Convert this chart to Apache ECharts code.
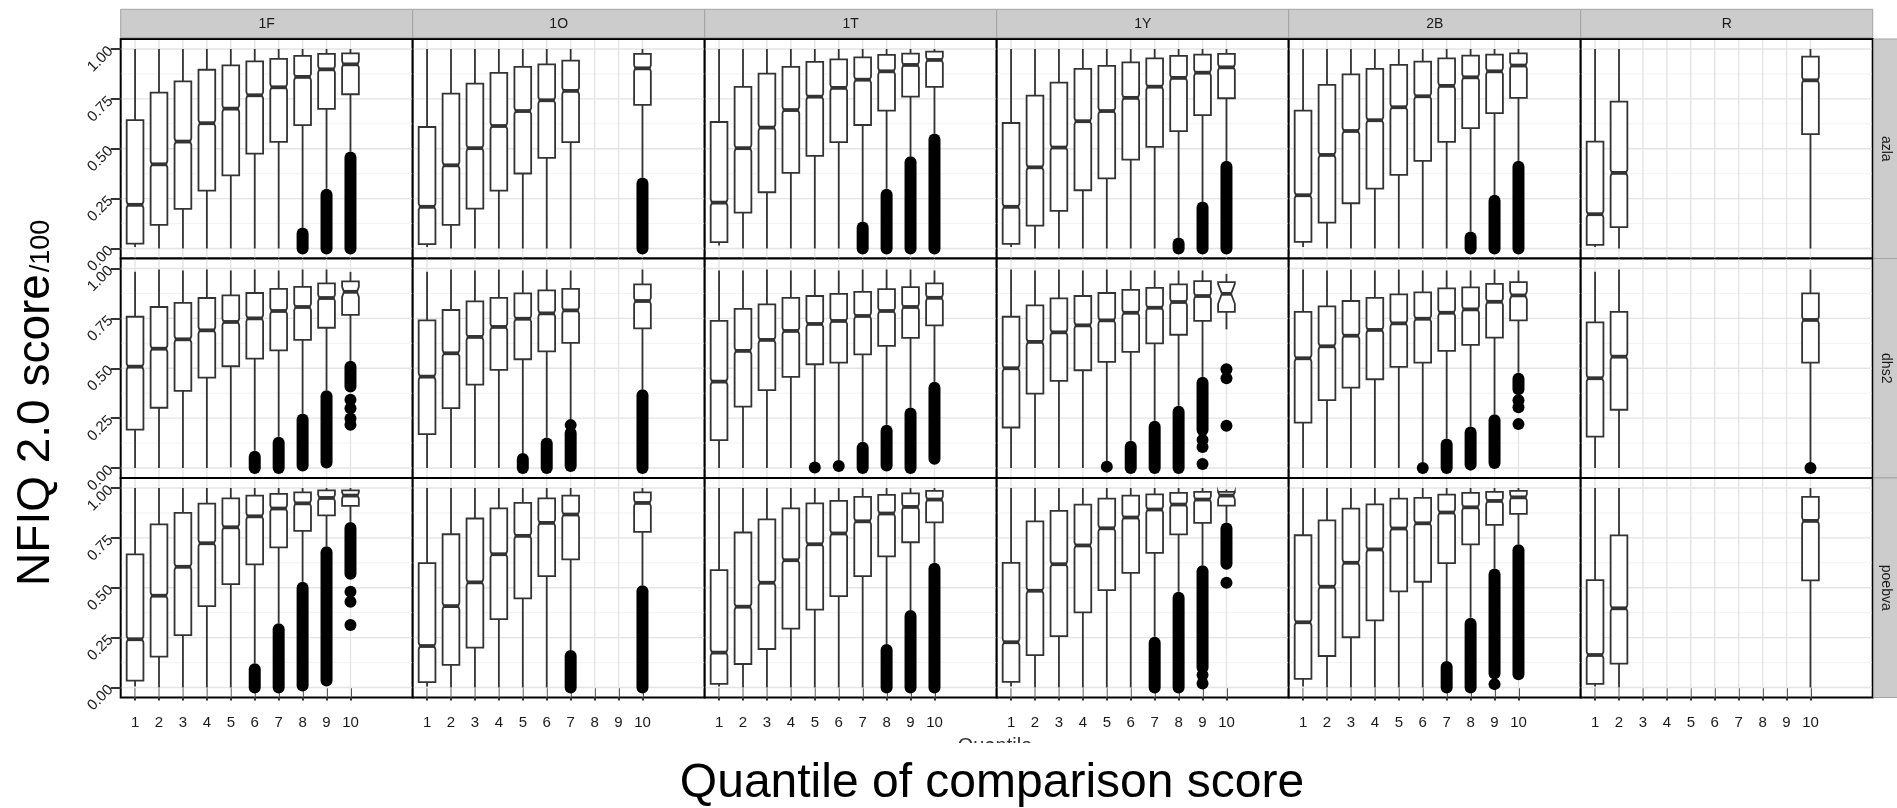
<!DOCTYPE html>
<html>
<head>
<meta charset="utf-8">
<script src="https://cdn.jsdelivr.net/npm/echarts@6/dist/echarts.min.js"></script>
<style>
html, body { margin: 0; padding: 0; background: #ffffff; }
#chart { width: 1897px; height: 808px; }
</style>
</head>
<body>
<div id="chart"></div>
<script>
// Facet labels
const facetCols = ['1F', '1O', '1T', '1Y', '2B', 'R'];
const facetRows = ['azla', 'dhs2', 'poebva'];

// Axis breaks
const xTicks = [1, 2, 3, 4, 5, 6, 7, 8, 9, 10];
const yTicks = [0, 0.25, 0.5, 0.75, 1];
const yMinor = [0.125, 0.375, 0.625, 0.875];

// Box statistics: [quantile, whisker low, Q1, median, Q3, whisker high, notch half-height (optional)]
// Outliers: [quantile, lowest, highest] (a single point when lowest == highest)

const box_azla_1F = [
  [1, 0.008, 0.025, 0.219, 0.643, 1.0],
  [2, 0.0, 0.119, 0.422, 0.781, 1.0],
  [3, 0.0, 0.199, 0.536, 0.838, 1.0],
  [4, 0.0, 0.290, 0.628, 0.896, 1.0],
  [5, 0.0, 0.367, 0.701, 0.918, 1.0],
  [6, 0.0, 0.476, 0.768, 0.938, 1.0],
  [7, 0.0, 0.534, 0.808, 0.950, 1.0],
  [8, 0.105, 0.618, 0.860, 0.965, 1.0],
  [9, 0.30, 0.700, 0.898, 0.975, 1.0],
  [10, 0.486, 0.773, 0.923, 0.978, 1.0]
];
const out_azla_1F = [[8, 0.0, 0.075], [9, 0.0, 0.269], [10, 0.0, 0.456]];

const box_azla_1O = [
  [1, 0.008, 0.022, 0.209, 0.609, 1.0],
  [2, 0.0, 0.119, 0.417, 0.776, 1.0],
  [3, 0.0, 0.200, 0.503, 0.826, 1.0],
  [4, 0.0, 0.290, 0.614, 0.880, 1.0],
  [5, 0.0, 0.376, 0.689, 0.910, 1.0],
  [6, 0.0, 0.454, 0.743, 0.923, 1.0],
  [7, 0.0, 0.533, 0.790, 0.942, 1.0],
  [10, 0.356, 0.720, 0.903, 0.975, 1.0]
];
const out_azla_1O = [[10, 0.0, 0.326]];

const box_azla_1T = [
  [1, 0.015, 0.032, 0.230, 0.634, 1.0],
  [2, 0.0, 0.180, 0.503, 0.810, 1.0],
  [3, 0.0, 0.282, 0.606, 0.876, 1.0],
  [4, 0.0, 0.379, 0.694, 0.910, 1.0],
  [5, 0.0, 0.464, 0.761, 0.935, 1.0],
  [6, 0.0, 0.533, 0.805, 0.948, 1.0],
  [7, 0.135, 0.619, 0.846, 0.958, 1.0],
  [8, 0.30, 0.691, 0.888, 0.970, 1.0],
  [9, 0.462, 0.761, 0.920, 0.977, 1.0],
  [10, 0.576, 0.810, 0.945, 0.987, 1.0]
];
const out_azla_1T = [[7, 0.0, 0.105], [8, 0.0, 0.27], [9, 0.0, 0.432], [10, 0.0, 0.546]];

const box_azla_1Y = [
  [1, 0.008, 0.023, 0.209, 0.629, 1.0],
  [2, 0.0, 0.115, 0.407, 0.766, 1.0],
  [3, 0.0, 0.189, 0.506, 0.831, 1.0],
  [4, 0.0, 0.292, 0.638, 0.900, 1.0],
  [5, 0.0, 0.352, 0.689, 0.915, 1.0],
  [6, 0.0, 0.446, 0.755, 0.933, 1.0],
  [7, 0.0, 0.509, 0.811, 0.953, 1.0],
  [8, 0.055, 0.588, 0.855, 0.965, 1.0],
  [9, 0.235, 0.669, 0.881, 0.972, 1.0],
  [10, 0.439, 0.753, 0.908, 0.975, 1.0]
];
const out_azla_1Y = [[8, 0.0, 0.025], [9, 0.0, 0.205], [10, 0.0, 0.41]];

const box_azla_2B = [
  [1, 0.008, 0.033, 0.267, 0.691, 1.0],
  [2, 0.0, 0.130, 0.469, 0.820, 1.0],
  [3, 0.0, 0.227, 0.589, 0.873, 1.0],
  [4, 0.0, 0.300, 0.643, 0.900, 1.0],
  [5, 0.0, 0.369, 0.708, 0.920, 1.0],
  [6, 0.0, 0.439, 0.763, 0.937, 1.0],
  [7, 0.0, 0.534, 0.815, 0.953, 1.0],
  [8, 0.085, 0.603, 0.858, 0.967, 1.0],
  [9, 0.269, 0.679, 0.888, 0.972, 1.0],
  [10, 0.439, 0.755, 0.917, 0.978, 1.0]
];
const out_azla_2B = [[8, 0.0, 0.055], [9, 0.0, 0.24], [10, 0.0, 0.41]];

const box_azla_R = [
  [1, 0.008, 0.018, 0.172, 0.536, 1.0],
  [2, 0.0, 0.107, 0.379, 0.736, 1.0],
  [10, 0.0, 0.573, 0.843, 0.962, 1.0]
];
const out_azla_R = [];

const box_dhs2_1F = [
  [1, 0.0, 0.192, 0.508, 0.758, 0.983],
  [2, 0.0, 0.302, 0.598, 0.807, 0.995],
  [3, 0.0, 0.387, 0.645, 0.828, 0.990],
  [4, 0.0, 0.453, 0.690, 0.852, 0.995],
  [5, 0.003, 0.510, 0.732, 0.865, 0.990],
  [6, 0.087, 0.548, 0.750, 0.877, 0.995],
  [7, 0.157, 0.590, 0.787, 0.898, 0.990],
  [8, 0.273, 0.642, 0.807, 0.908, 0.995],
  [9, 0.39, 0.703, 0.852, 0.925, 0.995],
  [10, 0.537, 0.767, 0.883, 0.935, 0.983, 0.025]
];
const out_dhs2_1F = [
  [6, 0.0, 0.057], [7, 0.0, 0.127], [8, 0.013, 0.243], [9, 0.028, 0.36],
  [10, 0.408, 0.507], [10, 0.342, 0.342], [10, 0.30, 0.30], [10, 0.248, 0.248], [10, 0.217, 0.217]
];

const box_dhs2_1O = [
  [1, 0.0, 0.170, 0.458, 0.740, 0.983],
  [2, 0.0, 0.300, 0.575, 0.792, 0.995],
  [3, 0.0, 0.418, 0.657, 0.835, 0.990],
  [4, 0.0, 0.492, 0.707, 0.853, 0.995],
  [5, 0.075, 0.545, 0.748, 0.875, 0.990],
  [6, 0.153, 0.585, 0.775, 0.890, 0.995],
  [7, 0.245, 0.627, 0.790, 0.898, 0.990],
  [10, 0.395, 0.700, 0.837, 0.920, 0.995]
];
const out_dhs2_1O = [[5, 0.0, 0.045], [6, 0.0, 0.123], [7, 0.01, 0.175], [7, 0.215, 0.215], [10, 0.0, 0.365]];

const box_dhs2_1T = [
  [1, 0.0, 0.140, 0.433, 0.737, 0.990],
  [2, 0.0, 0.308, 0.587, 0.798, 0.990],
  [3, 0.0, 0.390, 0.642, 0.820, 0.995],
  [4, 0.0, 0.457, 0.687, 0.853, 0.990],
  [5, 0.03, 0.520, 0.722, 0.862, 0.995],
  [6, 0.04, 0.528, 0.737, 0.873, 0.990],
  [7, 0.132, 0.570, 0.762, 0.883, 0.995],
  [8, 0.217, 0.612, 0.787, 0.897, 0.995],
  [9, 0.303, 0.652, 0.807, 0.907, 0.995],
  [10, 0.432, 0.715, 0.853, 0.925, 0.990]
];
const out_dhs2_1T = [[5, 0.003, 0.003], [6, 0.01, 0.01], [7, 0.0, 0.102], [8, 0.013, 0.187], [9, 0.0, 0.273], [10, 0.047, 0.402]];

const box_dhs2_1Y = [
  [1, 0.0, 0.203, 0.500, 0.758, 0.995],
  [2, 0.0, 0.373, 0.632, 0.815, 0.990],
  [3, 0.0, 0.437, 0.680, 0.850, 0.995],
  [4, 0.0, 0.490, 0.715, 0.862, 0.990],
  [5, 0.035, 0.532, 0.740, 0.877, 0.995],
  [6, 0.137, 0.582, 0.778, 0.893, 0.990],
  [7, 0.237, 0.625, 0.803, 0.903, 0.990],
  [8, 0.312, 0.668, 0.832, 0.920, 0.990],
  [9, 0.457, 0.737, 0.862, 0.937, 0.990],
  [10, 0.695, 0.783, 0.873, 0.932, 0.973, 0.05]
];
const out_dhs2_1Y = [
  [5, 0.007, 0.007], [6, 0.0, 0.107], [7, 0.0, 0.207], [8, 0.0, 0.282],
  [9, 0.19, 0.427], [9, 0.14, 0.14], [9, 0.105, 0.105], [9, 0.02, 0.02],
  [10, 0.495, 0.495], [10, 0.45, 0.45], [10, 0.212, 0.212]
];

const box_dhs2_2B = [
  [1, 0.0, 0.228, 0.550, 0.783, 0.995],
  [2, 0.0, 0.340, 0.610, 0.810, 0.990],
  [3, 0.0, 0.403, 0.663, 0.837, 0.995],
  [4, 0.0, 0.445, 0.692, 0.853, 0.990],
  [5, 0.0, 0.507, 0.725, 0.870, 0.995],
  [6, 0.03, 0.528, 0.748, 0.880, 0.990],
  [7, 0.148, 0.587, 0.778, 0.900, 0.990],
  [8, 0.208, 0.617, 0.795, 0.905, 0.990],
  [9, 0.27, 0.653, 0.833, 0.923, 0.995],
  [10, 0.478, 0.740, 0.865, 0.932, 0.990, 0.02]
];
const out_dhs2_2B = [
  [6, 0.0, 0.0], [7, 0.0, 0.118], [8, 0.017, 0.178], [9, 0.025, 0.24],
  [10, 0.395, 0.448], [10, 0.34, 0.34], [10, 0.305, 0.305], [10, 0.22, 0.22]
];

const box_dhs2_R = [
  [1, 0.0, 0.157, 0.450, 0.730, 0.983],
  [2, 0.0, 0.292, 0.558, 0.783, 0.995],
  [10, 0.01, 0.528, 0.742, 0.875, 0.995]
];
const out_dhs2_R = [[10, 0.0, 0.0]];

const box_poebva_1F = [
  [1, 0.005, 0.035, 0.242, 0.667, 1.0],
  [2, 0.0, 0.155, 0.460, 0.818, 1.0],
  [3, 0.0, 0.263, 0.605, 0.875, 1.0],
  [4, 0.0, 0.408, 0.723, 0.922, 1.0],
  [5, 0.0, 0.518, 0.803, 0.948, 1.0],
  [6, 0.122, 0.617, 0.858, 0.962, 1.0],
  [7, 0.322, 0.702, 0.897, 0.970, 1.0],
  [8, 0.53, 0.785, 0.923, 0.978, 1.0],
  [9, 0.708, 0.863, 0.950, 0.988, 1.0],
  [10, 0.83, 0.910, 0.962, 0.988, 1.0]
];
const out_poebva_1F = [
  [6, 0.0, 0.092], [7, 0.0, 0.292], [8, 0.01, 0.50], [9, 0.035, 0.678],
  [10, 0.57, 0.80], [10, 0.48, 0.48], [10, 0.43, 0.43], [10, 0.313, 0.313]
];

const box_poebva_1O = [
  [1, 0.005, 0.027, 0.208, 0.623, 1.0],
  [2, 0.0, 0.113, 0.408, 0.768, 1.0],
  [3, 0.0, 0.200, 0.527, 0.847, 1.0],
  [4, 0.0, 0.343, 0.668, 0.898, 1.0],
  [5, 0.0, 0.447, 0.760, 0.925, 1.0],
  [6, 0.0, 0.558, 0.825, 0.948, 1.0],
  [7, 0.188, 0.642, 0.867, 0.962, 1.0],
  [10, 0.513, 0.780, 0.925, 0.978, 1.0]
];
const out_poebva_1O = [[7, 0.0, 0.158], [10, 0.0, 0.483]];

const box_poebva_1T = [
  [1, 0.005, 0.018, 0.175, 0.588, 1.0],
  [2, 0.0, 0.118, 0.405, 0.777, 1.0],
  [3, 0.0, 0.193, 0.525, 0.843, 1.0],
  [4, 0.0, 0.295, 0.638, 0.898, 1.0],
  [5, 0.0, 0.390, 0.718, 0.923, 1.0],
  [6, 0.0, 0.458, 0.772, 0.935, 1.0],
  [7, 0.0, 0.558, 0.833, 0.955, 1.0],
  [8, 0.218, 0.657, 0.872, 0.965, 1.0],
  [9, 0.388, 0.728, 0.905, 0.973, 1.0],
  [10, 0.625, 0.828, 0.942, 0.985, 1.0]
];
const out_poebva_1T = [[8, 0.0, 0.188], [9, 0.0, 0.358], [10, 0.0, 0.595]];

const box_poebva_1Y = [
  [1, 0.005, 0.028, 0.227, 0.625, 1.0],
  [2, 0.0, 0.162, 0.485, 0.833, 1.0],
  [3, 0.0, 0.258, 0.618, 0.885, 1.0],
  [4, 0.0, 0.377, 0.712, 0.917, 1.0],
  [5, 0.0, 0.488, 0.798, 0.947, 1.0],
  [6, 0.0, 0.575, 0.852, 0.962, 1.0],
  [7, 0.255, 0.675, 0.892, 0.968, 1.0],
  [8, 0.48, 0.767, 0.917, 0.975, 1.0],
  [9, 0.613, 0.825, 0.942, 0.980, 1.0],
  [10, 0.827, 0.912, 0.962, 0.980, 0.992, 0.02]
];
const out_poebva_1Y = [
  [7, 0.0, 0.225], [8, 0.0, 0.45], [9, 0.1, 0.583], [9, 0.063, 0.063], [9, 0.02, 0.02],
  [10, 0.62, 0.797], [10, 0.525, 0.525]
];

const box_poebva_2B = [
  [1, 0.005, 0.043, 0.327, 0.763, 1.0],
  [2, 0.0, 0.158, 0.505, 0.838, 1.0],
  [3, 0.0, 0.252, 0.625, 0.897, 1.0],
  [4, 0.0, 0.337, 0.692, 0.918, 1.0],
  [5, 0.0, 0.482, 0.797, 0.947, 1.0],
  [6, 0.0, 0.530, 0.823, 0.950, 1.0],
  [7, 0.133, 0.623, 0.877, 0.967, 1.0],
  [8, 0.35, 0.717, 0.903, 0.975, 1.0],
  [9, 0.597, 0.815, 0.935, 0.980, 1.0],
  [10, 0.718, 0.870, 0.953, 0.985, 1.0]
];
const out_poebva_2B = [[7, 0.0, 0.103], [8, 0.0, 0.32], [9, 0.07, 0.567], [9, 0.017, 0.017], [10, 0.067, 0.688]];

const box_poebva_R = [
  [1, 0.005, 0.018, 0.163, 0.538, 1.0],
  [2, 0.0, 0.120, 0.397, 0.762, 1.0],
  [10, 0.0, 0.537, 0.835, 0.955, 1.0]
];
const out_poebva_R = [];

// Panel tables indexed [row][column]
const boxTable = [
  [box_azla_1F, box_azla_1O, box_azla_1T, box_azla_1Y, box_azla_2B, box_azla_R],
  [box_dhs2_1F, box_dhs2_1O, box_dhs2_1T, box_dhs2_1Y, box_dhs2_2B, box_dhs2_R],
  [box_poebva_1F, box_poebva_1O, box_poebva_1T, box_poebva_1Y, box_poebva_2B, box_poebva_R]
];
const outTable = [
  [out_azla_1F, out_azla_1O, out_azla_1T, out_azla_1Y, out_azla_2B, out_azla_R],
  [out_dhs2_1F, out_dhs2_1O, out_dhs2_1T, out_dhs2_1Y, out_dhs2_2B, out_dhs2_R],
  [out_poebva_1F, out_poebva_1O, out_poebva_1T, out_poebva_1Y, out_poebva_2B, out_poebva_R]
];

// Layout
const FONT = '"Liberation Sans", Arial, Helvetica, sans-serif';
const PANEL_LEFT = 120.7, PANEL_W = 292, PANEL_TOP = 39, PANEL_H = 219.5;
const BOX_WIDTH = 0.7;        // in quantile units
const NOTCH_DEFAULT = 0.016;  // notch half-height in score units
const DOT_R = 6;
const INK = '#333333';

function hline(x0, x1, y, color, w) {
  return { type: 'line', shape: { x1: x0, y1: y, x2: x1, y2: y }, style: { stroke: color, lineWidth: w }, silent: true };
}
function vline(x, y0, y1, color, w) {
  return { type: 'line', shape: { x1: x, y1: y0, x2: x, y2: y1 }, style: { stroke: color, lineWidth: w }, silent: true };
}

function renderGridLines(params, api) {
  const cs = params.coordSys;
  const x0 = cs.x + 1, x1 = cs.x + cs.width - 1, y0 = cs.y + 1, y1 = cs.y + cs.height - 1;
  const children = [];
  yMinor.forEach(v => children.push(hline(x0, x1, api.coord([1, v])[1], '#f3f3f3', 1)));
  yTicks.forEach(v => children.push(hline(x0, x1, api.coord([1, v])[1], '#e4e4e4', 1.4)));
  xTicks.forEach(v => children.push(vline(api.coord([v, 0])[0], y0, y1, '#e4e4e4', 1.4)));
  return { type: 'group', children };
}

function renderBox(params, api) {
  const q = api.value(0);
  const lo = api.value(1), q1 = api.value(2), med = api.value(3), q3 = api.value(4), hi = api.value(5);
  let notch = api.value(6);
  if (!(notch > 0)) notch = NOTCH_DEFAULT;
  const Y = v => api.coord([q, v])[1];
  const cx = api.coord([q, med])[0];
  const hw = api.size([BOX_WIDTH, 0])[0] / 2;
  const xl = cx - hw, xr = cx + hw;
  // deeper notches pinch the box further in
  const ind = hw * Math.min(0.5, notch * 9);
  const yLo = Y(lo), yQ1 = Y(q1), yMed = Y(med), yQ3 = Y(q3), yHi = Y(hi);
  const yNU = Y(med + notch), yNL = Y(med - notch);
  const lineStyle = { stroke: INK, lineWidth: 1.8 };
  return {
    type: 'group',
    children: [
      { type: 'line', shape: { x1: cx, y1: yQ3, x2: cx, y2: yHi }, style: lineStyle },
      { type: 'line', shape: { x1: cx, y1: yQ1, x2: cx, y2: yLo }, style: lineStyle },
      {
        type: 'polygon',
        shape: {
          points: [
            [xl, yQ3], [xl, yNU], [xl + ind, yMed], [xl, yNL], [xl, yQ1],
            [xr, yQ1], [xr, yNL], [xr - ind, yMed], [xr, yNU], [xr, yQ3]
          ]
        },
        style: { fill: '#ffffff', stroke: INK, lineWidth: 1.8, lineJoin: 'miter' }
      },
      { type: 'line', shape: { x1: xl + ind, y1: yMed, x2: xr - ind, y2: yMed }, style: { stroke: INK, lineWidth: 3.8 } }
    ]
  };
}

function renderOutliers(params, api) {
  const q = api.value(0), lo = api.value(1), hi = api.value(2);
  const pTop = api.coord([q, hi]), pBot = api.coord([q, lo]);
  return {
    type: 'rect',
    shape: { x: pTop[0] - DOT_R, y: pTop[1] - DOT_R, width: DOT_R * 2, height: pBot[1] - pTop[1] + DOT_R * 2, r: DOT_R },
    style: { fill: '#000000' }
  };
}

const grid = [], xAxis = [], yAxis = [], series = [], graphic = [];

facetRows.forEach((rowName, r) => {
  facetCols.forEach((colName, c) => {
    const i = r * facetCols.length + c;
    const bottomRow = r === facetRows.length - 1;
    const leftCol = c === 0;
    grid.push({
      left: PANEL_LEFT + c * PANEL_W, top: PANEL_TOP + r * PANEL_H,
      width: PANEL_W, height: PANEL_H,
      show: true, backgroundColor: '#ffffff', borderColor: '#000000', borderWidth: 2, z: 0
    });
    xAxis.push({
      gridIndex: i, type: 'value', min: 0.4, max: 12.6,
      axisLine: { show: false }, splitLine: { show: false },
      axisTick: { show: bottomRow, customValues: xTicks, length: 13, lineStyle: { color: INK, width: 2 } },
      axisLabel: { show: bottomRow, customValues: xTicks, margin: 18, fontSize: 15, color: '#1a1a1a', fontFamily: FONT }
    });
    yAxis.push({
      gridIndex: i, type: 'value', min: -0.05, max: 1.05,
      axisLine: { show: false }, splitLine: { show: false },
      axisTick: { show: leftCol, customValues: yTicks, length: 10, lineStyle: { color: INK, width: 2 } },
      axisLabel: {
        show: leftCol, customValues: yTicks, rotate: 45, margin: 10, fontSize: 15,
        color: '#1a1a1a', fontFamily: FONT, formatter: v => Number(v).toFixed(2)
      }
    });
    series.push({
      type: 'custom', xAxisIndex: i, yAxisIndex: i, data: [[1, 0]],
      renderItem: renderGridLines, silent: true, z: 1
    });
    series.push({
      type: 'custom', xAxisIndex: i, yAxisIndex: i,
      dimensions: ['quantile', 'low', 'q1', 'median', 'q3', 'high', 'notch'],
      data: boxTable[r][c], renderItem: renderBox, silent: true, z: 2
    });
    series.push({
      type: 'custom', xAxisIndex: i, yAxisIndex: i,
      dimensions: ['quantile', 'lowest', 'highest'],
      data: outTable[r][c], renderItem: renderOutliers, silent: true, z: 3
    });
  });
});

// Facet strips along the top
facetCols.forEach((name, c) => {
  const x = PANEL_LEFT + c * PANEL_W;
  graphic.push({
    type: 'rect', shape: { x: x, y: 9.3, width: PANEL_W, height: 28.4 },
    style: { fill: '#cccccc', stroke: '#a3a3a3', lineWidth: 1 }, silent: true, z: 5
  });
  graphic.push({
    type: 'text', x: x + PANEL_W / 2, y: 24,
    style: { text: name, fill: '#1a1a1a', font: '14px ' + FONT, align: 'center', verticalAlign: 'middle' },
    silent: true, z: 6
  });
});

// Facet strips down the right side
const stripX = PANEL_LEFT + facetCols.length * PANEL_W + 1;
facetRows.forEach((name, r) => {
  const y = PANEL_TOP + r * PANEL_H;
  graphic.push({
    type: 'rect', shape: { x: stripX, y: y, width: 40, height: PANEL_H },
    style: { fill: '#cccccc', stroke: '#a3a3a3', lineWidth: 1 }, silent: true, z: 5
  });
  graphic.push({
    type: 'text', x: stripX + 12, y: y + PANEL_H / 2, rotation: -Math.PI / 2,
    style: { text: name, fill: '#1a1a1a', font: '14px ' + FONT, align: 'center', verticalAlign: 'middle' },
    silent: true, z: 6
  });
});

// Axis titles
graphic.push({
  type: 'text', x: 36, y: 430, rotation: Math.PI / 2,
  style: { text: 'NFIQ 2.0 score', fill: '#000000', font: '46px ' + FONT, align: 'center', verticalAlign: 'middle' },
  silent: true, z: 6
});
graphic.push({
  type: 'text', x: 42, y: 246, rotation: Math.PI / 2,
  style: { text: '/100', fill: '#000000', font: '27px ' + FONT, align: 'center', verticalAlign: 'middle' },
  silent: true, z: 6
});
graphic.push({
  type: 'text', x: 995, y: 736,
  style: { text: 'Quantile', fill: '#333333', font: '20px ' + FONT, align: 'center', verticalAlign: 'top' },
  silent: true, z: 6
});
graphic.push({
  type: 'rect', shape: { x: 940, y: 743, width: 110, height: 19 },
  style: { fill: '#ffffff' }, silent: true, z: 7
});
graphic.push({
  type: 'text', x: 992, y: 784,
  style: { text: 'Quantile of comparison score', fill: '#000000', font: '48px ' + FONT, align: 'center', verticalAlign: 'middle' },
  silent: true, z: 6
});

const chart = echarts.init(document.getElementById('chart'), null, { renderer: 'canvas' });
chart.setOption({
  animation: false,
  backgroundColor: '#ffffff',
  textStyle: { fontFamily: FONT },
  grid, xAxis, yAxis, series, graphic
});
</script>
</body>
</html>
